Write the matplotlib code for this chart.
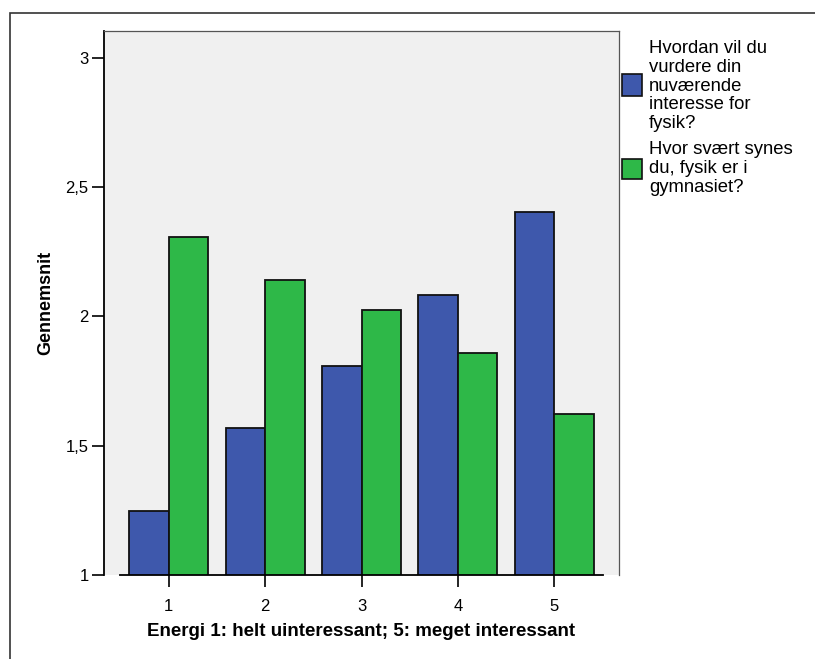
import matplotlib
matplotlib.use("Agg")
import matplotlib.pyplot as plt
from matplotlib.patches import Rectangle
import numpy as np

plt.rcParams.update({
    "font.family": ["Liberation Sans", "DejaVu Sans"],
    "font.size": 12,
})

# ── Data ───────────────────────────────────────────────────────
categories = ["1", "2", "3", "4", "5"]
interest = [1.246, 1.567, 1.807, 2.084, 2.405]      # blue
difficulty = [2.309, 2.142, 2.026, 1.857, 1.622]    # green
series_labels = [
    "Hvordan vil du\nvurdere din\nnuværende\ninteresse for\nfysik?",
    "Hvor svært synes\ndu, fysik er i\ngymnasiet?",
]
yticks = [1, 1.5, 2, 2.5, 3]
ytick_labels = ["1", "1,5", "2", "2,5", "3"]

BLUE = "#3E58AC"
GREEN = "#2EB848"
BG = "#F0F0F0"

W, H = 815, 659
fig = plt.figure(figsize=(W / 100, H / 100), dpi=100)
ax = fig.add_axes([104 / W, 1 - 575 / H, (619 - 104) / W, (575 - 31) / H])
ax.set_facecolor(BG)

x = np.arange(1, len(categories) + 1)
bw = 0.41
ax.bar(x - bw / 2, interest, bw, bottom=0, color=BLUE, edgecolor="#111111",
       linewidth=1.3, zorder=3)
ax.bar(x + bw / 2, difficulty, bw, bottom=0, color=GREEN, edgecolor="#111111",
       linewidth=1.3, zorder=3)

ax.set_xlim(0.33, 5.67)
ax.set_ylim(1, 3.104)
ax.set_xticks(x)
ax.set_xticklabels(categories)
ax.set_yticks(yticks)
ax.set_yticklabels(ytick_labels)
ax.tick_params(axis="both", direction="out", length=8.6, width=1.2,
               colors="black", labelsize=12)
ax.tick_params(axis="y", pad=2.5)
ax.tick_params(axis="x", pad=9)

for s in ("top", "right"):
    ax.spines[s].set_color("#555555")
    ax.spines[s].set_linewidth(0.9)
ax.spines["left"].set_linewidth(1.3)
ax.spines["bottom"].set_linewidth(1.3)
ax.spines["bottom"].set_bounds(0.5, 5.5)
ax.spines["bottom"].set_zorder(4)

ax.set_xlabel("Energi 1: helt uinteressant; 5: meget interessant",
              fontsize=13.5, fontweight="bold", labelpad=6)
ax.set_ylabel("Gennemsnit", fontsize=13, fontweight="bold")
ax.yaxis.set_label_coords((54.5 - 104) / 515, 0.5)

# ── Legend (drawn by hand, SPSS style) ─────────────────────────
legend_blocks = [(40, 74, 96), (141, 159, 179)]
for (ty, py0, py1), lbl, col in zip(legend_blocks, series_labels, [BLUE, GREEN]):
    fig.patches.append(Rectangle((622 / W, 1 - py1 / H), 20 / W, (py1 - py0) / H,
                                 transform=fig.transFigure, facecolor=col,
                                 edgecolor="#111111", linewidth=1.2))
    fig.text(649 / W, 1 - ty / H, lbl, ha="left", va="top",
             fontsize=13.3, linespacing=1.14)

# outer frame
fig.patches.append(Rectangle((10 / W, -0.1), 1.2, 1.1 - 13 / H,
                             transform=fig.transFigure, fill=False,
                             edgecolor="#333333", linewidth=1.2))

fig.savefig("out.png", dpi=100, facecolor="white")
